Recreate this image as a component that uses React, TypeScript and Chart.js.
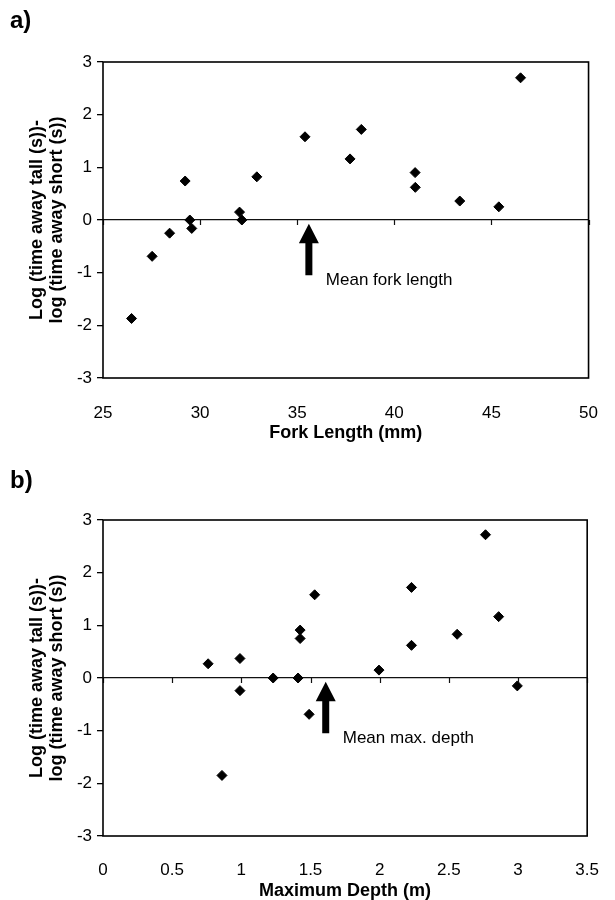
import React, { useEffect, useRef } from 'react';
import { Chart, registerables } from 'chart.js';

Chart.register(...registerables);

// ---------- data ----------
const forkLength = [26.47, 27.53, 28.43, 29.23, 29.47, 29.57, 32.03, 32.15, 32.92, 35.4, 37.72, 38.3, 41.07, 41.08, 43.37, 45.38, 46.5];
const logDiffA = [-1.87, -0.69, -0.25, 0.74, 0.0, -0.16, 0.15, 0.0, 0.82, 1.58, 1.16, 1.72, 0.9, 0.62, 0.36, 0.25, 2.7];

const maxDepth = [0.76, 0.86, 0.99, 0.99, 1.23, 1.41, 1.425, 1.425, 1.49, 1.53, 1.995, 2.23, 2.23, 2.56, 2.765, 2.86, 2.995];
const logDiffB = [0.27, -1.85, 0.37, -0.24, 0.0, 0.0, 0.91, 0.75, -0.69, 1.58, 0.15, 1.72, 0.62, 0.83, 2.72, 1.165, -0.15];

const meanForkLength = 35.6;
const meanMaxDepth = 1.61;

const yTitleLines = ['Log (time away tall (s))-', 'log (time away short (s))'];

const FONT = '"Liberation Sans", Arial, Helvetica, sans-serif';

type PanelProps = {
  label: string;
  labelBaseline: number;
  xs: number[];
  ys: number[];
  xMin: number;
  xMax: number;
  xStep: number;
  xTitle: string;
  mean: number;
  note: string;
  padTop: number;
  padRight: number;
  xAxisHeight: number;
  tickPad: number;
  titlePadBottom: number;
};

const fmt = (v: any) => String(Math.round(Number(v) * 100) / 100);

function Panel(p: PanelProps) {
  const ref = useRef<HTMLCanvasElement | null>(null);

  useEffect(() => {
    document.body.style.margin = '0';
    const canvas = ref.current;
    if (!canvas) return;

    const overlay = {
      id: 'overlay',
      afterDraw(chart: any) {
        const ctx = chart.ctx as CanvasRenderingContext2D;
        const { left, top, right, bottom } = chart.chartArea;
        const xs = chart.scales.x;
        const ys = chart.scales.y;
        const y0 = ys.getPixelForValue(0);
        ctx.save();
        // tick marks on the zero line
        ctx.strokeStyle = '#111';
        ctx.lineWidth = 1.2;
        ctx.beginPath();
        for (const t of xs.ticks) {
          const px = Math.round(xs.getPixelForValue(t.value)) + 0.5;
          ctx.moveTo(px, y0);
          ctx.lineTo(px, y0 + 5);
        }
        ctx.stroke();
        // plot border
        ctx.strokeStyle = '#000';
        ctx.lineWidth = 1.6;
        ctx.strokeRect(left, top, right - left, bottom - top);
        // arrow
        const ax = xs.getPixelForValue(p.mean);
        const tip = ys.getPixelForValue(-0.07);
        const base = ys.getPixelForValue(-0.44);
        const tail = ys.getPixelForValue(-1.05);
        ctx.fillStyle = '#000';
        ctx.beginPath();
        ctx.moveTo(ax, tip);
        ctx.lineTo(ax + 10, base);
        ctx.lineTo(ax + 3.5, base);
        ctx.lineTo(ax + 3.5, tail);
        ctx.lineTo(ax - 3.5, tail);
        ctx.lineTo(ax - 3.5, base);
        ctx.lineTo(ax - 10, base);
        ctx.closePath();
        ctx.fill();
        // note text
        ctx.font = `17px ${FONT}`;
        ctx.textAlign = 'left';
        ctx.textBaseline = 'middle';
        ctx.fillText(p.note, ax + 17, ys.getPixelForValue(-1.15));
        // panel label
        ctx.font = `bold 24px ${FONT}`;
        ctx.textBaseline = 'alphabetic';
        ctx.fillText(p.label, 10, p.labelBaseline);
        ctx.restore();
      },
    };

    const chart = new Chart(canvas, {
      type: 'scatter',
      data: {
        datasets: [
          {
            data: p.xs.map((x, i) => ({ x, y: p.ys[i] })),
            pointStyle: 'rectRot',
            pointRadius: 5,
            pointHoverRadius: 5,
            backgroundColor: '#000',
            borderColor: '#000',
            borderWidth: 1,
          },
        ],
      },
      options: {
        animation: false,
        responsive: false,
        devicePixelRatio: 1,
        layout: { padding: { top: p.padTop, right: p.padRight, bottom: 0, left: 0 } },
        plugins: { legend: { display: false }, tooltip: { enabled: false } },
        scales: {
          x: {
            type: 'linear',
            min: p.xMin,
            max: p.xMax,
            ticks: {
              stepSize: p.xStep,
              autoSkip: false,
              maxRotation: 0,
              padding: p.tickPad,
              color: '#000',
              font: { family: FONT, size: 17 },
              callback: fmt,
            },
            grid: { display: false },
            border: { display: false },
            title: {
              display: true,
              text: p.xTitle,
              color: '#000',
              font: { family: FONT, size: 18, weight: 'bold', lineHeight: 1 },
              padding: { top: 0, bottom: p.titlePadBottom },
            },
            afterFit(scale: any) {
              scale.height = p.xAxisHeight;
            },
          },
          y: {
            type: 'linear',
            min: -3,
            max: 3,
            ticks: {
              stepSize: 1,
              padding: 5,
              color: '#000',
              font: { family: FONT, size: 17 },
              callback: fmt,
            },
            grid: {
              drawOnChartArea: true,
              drawTicks: true,
              tickLength: 6,
              tickColor: '#000',
              tickWidth: 1.3,
              lineWidth: 1.3,
              color: (c: any) => (c.tick && c.tick.value === 0 ? '#111' : 'rgba(0,0,0,0)'),
            },
            border: { display: false },
            title: {
              display: true,
              text: yTitleLines,
              color: '#000',
              font: { family: FONT, size: 18, weight: 'bold', lineHeight: 1.11 },
              padding: { top: 27, bottom: 0 },
            },
            afterFit(scale: any) {
              scale.width = 103;
            },
          },
        },
      },
      plugins: [overlay],
    } as any);

    return () => chart.destroy();
  }, []);

  return <canvas ref={ref} width={615} height={450} style={{ display: 'block', width: 615, height: 450 }} />;
}

export default function App() {
  return (
    <div style={{ width: 615, height: 900, background: '#fff' }}>
      <Panel
        label="a)"
        labelBaseline={28}
        xs={forkLength}
        ys={logDiffA}
        xMin={25}
        xMax={50}
        xStep={5}
        xTitle="Fork Length (mm)"
        mean={meanForkLength}
        note="Mean fork length"
        padTop={62}
        padRight={11}
        xAxisHeight={72}
        tickPad={17}
        titlePadBottom={8}
      />
      <Panel
        label="b)"
        labelBaseline={38}
        xs={maxDepth}
        ys={logDiffB}
        xMin={0}
        xMax={3.5}
        xStep={0.5}
        xTitle="Maximum Depth (m)"
        mean={meanMaxDepth}
        note="Mean max. depth"
        padTop={70}
        padRight={14}
        xAxisHeight={64}
        tickPad={16}
        titlePadBottom={0}
      />
    </div>
  );
}
